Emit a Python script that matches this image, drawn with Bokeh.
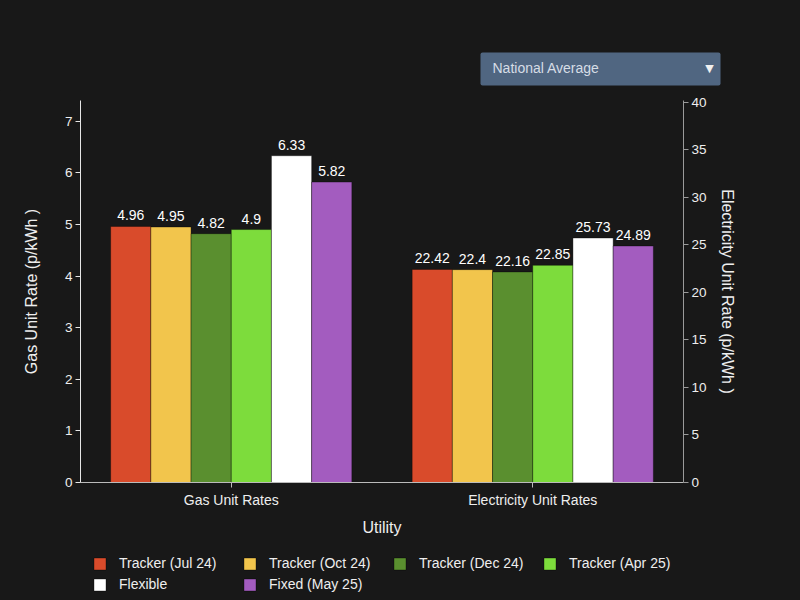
from bokeh.plotting import figure
from bokeh.models import (FactorRange, Range1d, LinearAxis, ColumnDataSource, Legend,
                          LegendItem, LabelSet, FixedTicker)
from bokeh.layouts import column
from bokeh.transform import dodge
from bokeh.core.properties import value
from bokeh.embed import file_html
from bokeh.resources import INLINE

# ---------------- data ----------------
utilities = ["Gas Unit Rates", "Electricity Unit Rates"]
series = ["Tracker (Jul 24)", "Tracker (Oct 24)", "Tracker (Dec 24)",
          "Tracker (Apr 25)", "Flexible", "Fixed (May 25)"]
gas_rates = [4.96, 4.95, 4.82, 4.9, 6.33, 5.82]
elec_rates = [22.42, 22.4, 22.16, 22.85, 25.73, 24.89]
colors = ["#d94b2b", "#f2c54c", "#5a8f2f", "#7ddc3c", "#ffffff", "#a35cbf"]
gas_ticks = [0, 1, 2, 3, 4, 5, 6, 7]
elec_ticks = [0, 5, 10, 15, 20, 25, 30, 35, 40]
gas_max = 7.4
elec_max = 40.2
dropdown_text = "National Average"

BG = "#181818"
FONT = "Liberation Sans"
W = 800
NAN = float("nan")

# ---------------- header with dropdown look-alike ----------------
HEAD_H = 90
head = figure(width=W, height=HEAD_H, x_range=Range1d(0, W), y_range=Range1d(HEAD_H, 0),
              output_backend="svg", toolbar_location=None,
              x_axis_location=None, y_axis_location=None, frame_align=False,
              min_border=0, min_border_left=0, min_border_right=0,
              min_border_top=0, min_border_bottom=0,
              background_fill_color=BG, border_fill_color=BG, outline_line_color=None)
head.grid.visible = False
head.quad(left=[480], right=[720], top=[52], bottom=[85], fill_color="#506681",
          line_color=None, border_radius=2)
head.text(x=[492], y=[67.5], text=[dropdown_text], text_baseline="middle",
          text_color="#d6dde6", text_font=value(FONT), text_font_size="14px")
head.text(x=[709], y=[67.5], text=["▼"], text_baseline="middle", text_align="center",
          text_color="#f0f0f0", text_font=value("DejaVu Sans"), text_font_size="11px")

# ---------------- main chart ----------------
MAIN_H = 455
p = figure(width=W, height=MAIN_H, x_range=FactorRange(*utilities),
           y_range=Range1d(0, gas_max), output_backend="svg", toolbar_location=None,
           frame_align=False,
           min_border_left=80, min_border_right=117, min_border_top=10, min_border_bottom=63,
           background_fill_color=BG, border_fill_color=BG, outline_line_color=None)
p.extra_y_ranges = {"elec": Range1d(0, elec_max)}
p.xgrid.grid_line_color = None
p.ygrid.grid_line_color = None

n = len(series)
bw = 0.8 / n
for i, (name, col) in enumerate(zip(series, colors)):
    off = (i - (n - 1) / 2) * bw
    gsrc = ColumnDataSource(dict(x=[utilities[0]], top=[gas_rates[i]], lab=[f"{gas_rates[i]:g}"]))
    esrc = ColumnDataSource(dict(x=[utilities[1]], top=[elec_rates[i]], lab=[f"{elec_rates[i]:g}"]))
    p.vbar(x=dodge("x", off, range=p.x_range), top="top", width=bw, source=gsrc,
           fill_color=col, line_color="black", line_alpha=0.35, line_width=1)
    p.vbar(x=dodge("x", off, range=p.x_range), top="top", width=bw, source=esrc,
           y_range_name="elec", fill_color=col, line_color="black", line_alpha=0.35, line_width=1)
    for src, rn in ((gsrc, "default"), (esrc, "elec")):
        p.add_layout(LabelSet(x=dodge("x", off, range=p.x_range), y="top", text="lab", source=src,
                              y_range_name=rn, text_align="center", text_baseline="alphabetic",
                              y_offset=6, text_color="#ffffff", text_font=value(FONT),
                              text_font_size="14px"))

def style_axis(ax, line_col):
    ax.axis_line_color = line_col
    ax.major_tick_line_color = line_col
    ax.minor_tick_line_color = None
    ax.major_tick_in = 0
    ax.major_tick_out = 5
    ax.major_label_text_color = "#eeeeee"
    ax.major_label_text_font = FONT
    ax.major_label_text_font_size = "13.5px"
    ax.axis_label_text_color = "#eeeeee"
    ax.axis_label_text_font = FONT
    ax.axis_label_text_font_size = "16px"
    ax.axis_label_text_font_style = "normal"

ly = p.yaxis[0]
ly.ticker = FixedTicker(ticks=gas_ticks)
ly.axis_label = "Gas Unit Rate (p/kWh )"
style_axis(ly, "#e6e6e6")
ly.major_label_standoff = 3
ly.axis_label_standoff = 22

ry = LinearAxis(y_range_name="elec", ticker=FixedTicker(ticks=elec_ticks),
                axis_label="Electricity Unit Rate (p/kWh )")
style_axis(ry, "#9a9a9a")
ry.major_label_standoff = 3
ry.axis_label_standoff = 9
p.add_layout(ry, "right")

bx = p.xaxis[0]
bx.axis_label = "Utility"
style_axis(bx, "#bbbbbb")
bx.major_label_text_font_size = "14px"
bx.major_label_standoff = 4
bx.axis_label_standoff = 8

# ---------------- legend strip ----------------
LEG_H = 55
leg = figure(width=W, height=LEG_H, x_range=Range1d(0, W), y_range=Range1d(0, LEG_H),
             output_backend="svg", toolbar_location=None,
             x_axis_location=None, y_axis_location=None, frame_align=False,
             min_border=0, min_border_left=0, min_border_right=0,
             min_border_top=0, min_border_bottom=0,
             background_fill_color=BG, border_fill_color=BG, outline_line_color=None)
leg.grid.visible = False
items = []
for name, col in zip(series, colors):
    # proxy renderer (NaN data, draws nothing) used only for the legend swatch
    r = leg.vbar(x=[NAN], top=[NAN], width=1, fill_color=col,
                 line_color="black", line_alpha=0.35)
    items.append(LegendItem(label=name, renderers=[r]))
legend = Legend(items=items, location=(92, 8), ncols=4, orientation="horizontal",
                glyph_width=15, glyph_height=15, label_standoff=12, label_width=118,
                label_height=15, spacing=5, padding=0, margin=0,
                label_text_color="#eeeeee", label_text_font=FONT, label_text_font_size="14px",
                background_fill_alpha=0, border_line_alpha=0)
leg.add_layout(legend, "center")

layout = column(head, p, leg, spacing=0, background=BG)

html = file_html(layout, INLINE)
html = html.replace("</head>", "<style>html,body{background:%s;}</style></head>" % BG, 1)
open("out.html", "w").write(html)
